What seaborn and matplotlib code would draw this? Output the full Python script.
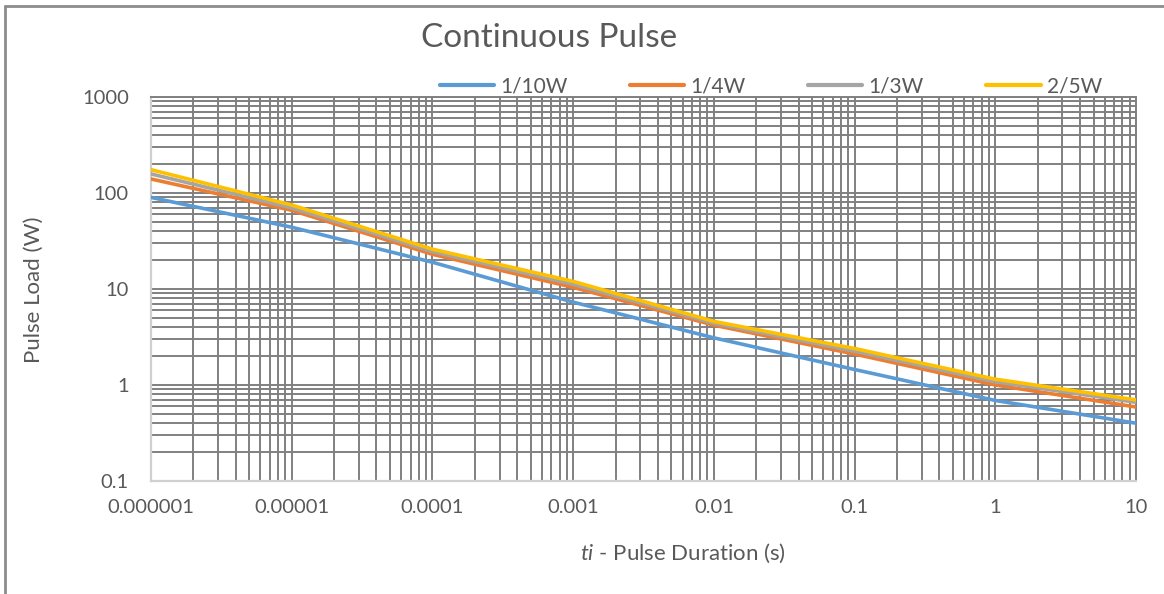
import numpy as np
import pandas as pd
import matplotlib
matplotlib.use("Agg")
import matplotlib.pyplot as plt
from matplotlib.lines import Line2D
from matplotlib.ticker import LogLocator, FixedLocator, FixedFormatter, NullFormatter
import seaborn as sns

# --- DATA ---
durations = [1e-6, 1e-5, 1e-4, 1e-3, 1e-2, 1e-1, 1, 10]
load_1_10w = [90, 44, 19, 7.3, 3.1, 1.45, 0.69, 0.40]
load_1_4w = [140, 66, 23, 10.4, 4.2, 2.1, 1.0, 0.59]
load_1_3w = [158, 70, 24.5, 11.2, 4.4, 2.25, 1.08, 0.66]
load_2_5w = [175, 75, 26, 12.0, 4.6, 2.4, 1.15, 0.70]

series_names = ["1/10W", "1/4W", "1/3W", "2/5W"]
series_colors = ["#5B9BD5", "#ED7D31", "#A5A5A5", "#FFC000"]

x_ticks = [1e-6, 1e-5, 1e-4, 1e-3, 1e-2, 1e-1, 1, 10]
x_tick_labels = ["0.000001", "0.00001", "0.0001", "0.001", "0.01", "0.1", "1", "10"]
y_ticks = [0.1, 1, 10, 100, 1000]
y_tick_labels = ["0.1", "1", "10", "100", "1000"]

# long-form table for seaborn
frames = []
for name, vals in zip(series_names, [load_1_10w, load_1_4w, load_1_3w, load_2_5w]):
    frames.append(pd.DataFrame({"t": durations, "load": vals, "series": name}))
df = pd.concat(frames, ignore_index=True)

sns.set_theme(style="white")
plt.rcParams["font.family"] = ["Lato", "DejaVu Sans"]
plt.rcParams["mathtext.fontset"] = "custom"
plt.rcParams["mathtext.rm"] = "Lato"
plt.rcParams["mathtext.it"] = "Lato:italic"

TEXT = "#595959"
GRID = "#808080"

fig = plt.figure(figsize=(11.64, 5.94), dpi=100)
ax = fig.add_axes([151 / 1164, 1 - 481 / 594, 985 / 1164, 384 / 594])

sns.lineplot(data=df, x="t", y="load", hue="series", hue_order=series_names,
             palette=series_colors, linewidth=2.6, ax=ax, legend=False, zorder=5)

ax.set_xscale("log")
ax.set_yscale("log")
ax.set_xlim(1e-6, 10)
ax.set_ylim(0.1, 1000)

# major + minor gridlines like the Excel chart
ax.xaxis.set_major_locator(FixedLocator(x_ticks))
ax.xaxis.set_major_formatter(FixedFormatter(x_tick_labels))
ax.yaxis.set_major_locator(FixedLocator(y_ticks))
ax.yaxis.set_major_formatter(FixedFormatter(y_tick_labels))
ax.xaxis.set_minor_locator(LogLocator(base=10, subs=np.arange(2, 10)))
ax.yaxis.set_minor_locator(LogLocator(base=10, subs=np.arange(2, 10)))
ax.xaxis.set_minor_formatter(NullFormatter())
ax.yaxis.set_minor_formatter(NullFormatter())
ax.grid(True, which="both", color=GRID, linewidth=1.4)
ax.set_axisbelow(True)

ax.tick_params(which="both", length=0, labelsize=14.5, labelcolor=TEXT)
ax.tick_params(axis="x", pad=13)
ax.tick_params(axis="y", pad=16)
for side in ["top", "right"]:
    ax.spines[side].set_color(GRID)
    ax.spines[side].set_linewidth(1.4)
for side in ["left", "bottom"]:
    ax.spines[side].set_color("#D0D0D0")
    ax.spines[side].set_linewidth(1.6)

ax.set_xlabel("")
ax.set_ylabel("")

fig.text(34 / 1164, 1 - 290 / 594, "Pulse Load (W)", fontsize=16, color=TEXT,
         rotation=90, ha="center", va="center")
fig.text(683 / 1164, 1 - 553 / 594, r"$ti$ - Pulse Duration (s)", fontsize=16,
         color=TEXT, ha="center", va="center")
fig.text(549 / 1164, 1 - 38 / 594, "Continuous Pulse", fontsize=24,
         color=TEXT, ha="center", va="center")

handles = [Line2D([0], [0], color=c, linewidth=3) for c in series_colors]
leg = fig.legend(handles, series_names, loc="center", ncol=4,
                 bbox_to_anchor=(771 / 1164, 1 - 86 / 594), frameon=False,
                 fontsize=15, handlelength=2.6, handletextpad=0.3,
                 columnspacing=3.0)
for t in leg.get_texts():
    t.set_color(TEXT)

# outer chart frame (only top and left edges visible in the crop)
fig.add_artist(Line2D([5 / 1164, 5 / 1164], [0, 1 - 6 / 594], transform=fig.transFigure,
                      color="#8C8C8C", linewidth=2))
fig.add_artist(Line2D([5 / 1164, 1], [1 - 6 / 594, 1 - 6 / 594], transform=fig.transFigure,
                      color="#8C8C8C", linewidth=2))

fig.savefig("out.png", dpi=100, facecolor="white")
